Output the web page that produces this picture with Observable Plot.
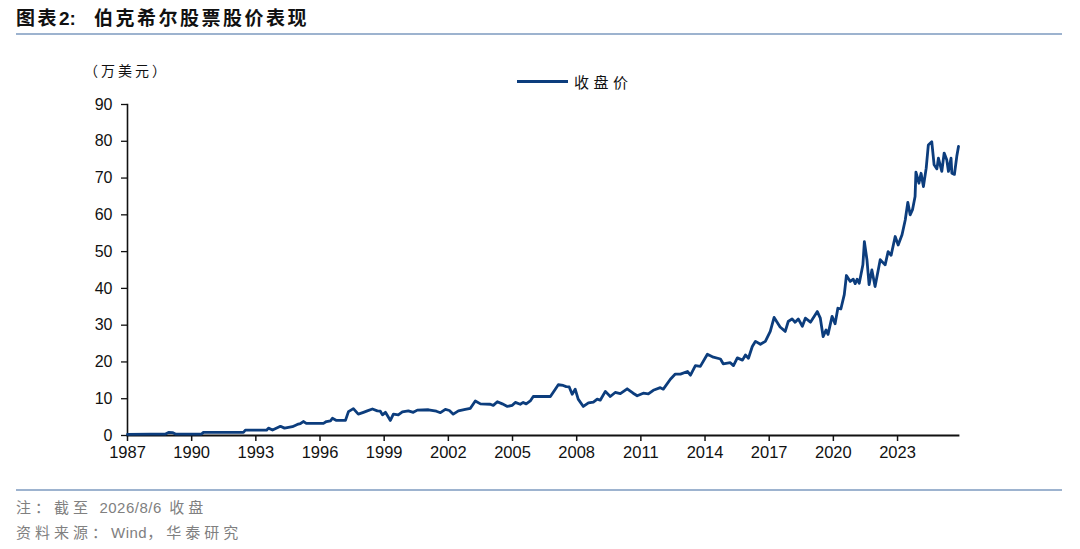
<!DOCTYPE html>
<html>
<head>
<meta charset="utf-8">
<script src="https://cdn.jsdelivr.net/npm/d3@7"></script>
<script src="https://cdn.jsdelivr.net/npm/@observablehq/plot@0.6"></script>
<style>
  html, body { margin: 0; padding: 0; background: #fff; }
  body { width: 1080px; height: 549px; overflow: hidden; font-family: "Noto Sans CJK SC", "Liberation Sans", sans-serif; }
  .title { height: 35px; margin: 0 18px 0 16px; border-bottom: 2px solid #9db3cf; box-sizing: border-box; font-weight: bold; font-size: 19px; line-height: 30px; color: #111; padding-top: 2px; letter-spacing: 2.5px; white-space: nowrap; }
  .title .num { font-family: "Liberation Sans", Arial, sans-serif; font-weight: bold; letter-spacing: 0; }
  .title .gap { display: inline-block; width: 18px; }
  .head { position: relative; height: 57px; }
  .unit { position: absolute; left: 84px; top: 25px; font-size: 14px; color: #111; letter-spacing: 3px; }
  .legend { position: absolute; left: 517px; top: 36px; display: flex; align-items: center; font-size: 15px; color: #111; letter-spacing: 4.5px; }
  .legend .sw { width: 51px; height: 3px; background: #0c3d7d; margin-right: 6px; }
  #chart { height: 395px; }
  .foot { margin: 2px 18px 0 16px; border-top: 2px solid #9db3cf; padding-top: 4px; color: #808080; font-size: 15px; line-height: 24px; letter-spacing: 4px; }
  .foot .lat { font-family: "Liberation Sans", Arial, sans-serif; letter-spacing: 0.5px; }
</style>
</head>
<body>
<div class="title">图表<span class="num">2:</span><span class="gap"></span>伯克希尔股票股价表现</div>
<div class="head">
  <div class="unit">（万美元）</div>
  <div class="legend"><div class="sw"></div><span>收盘价</span></div>
</div>
<div id="chart"></div>
<div class="foot">
  <div>注：截至 <span class="lat">2026/8/6</span> 收盘</div>
  <div>资料来源：<span class="lat">Wind</span>，华泰研究</div>
</div>
<script>
const years = [
  1987.0, 1988.07, 1988.78, 1988.92, 1989.1, 1989.24, 1990.46, 1990.55, 1992.42, 1992.51,
  1993.5, 1993.59, 1993.78, 1994.15, 1994.34, 1994.71, 1994.94, 1995.08, 1995.22, 1995.36,
  1996.16, 1996.3, 1996.49, 1996.58, 1996.77, 1997.19, 1997.33, 1997.56, 1997.79, 1998.03,
  1998.21, 1998.45, 1998.68, 1998.82, 1998.92, 1999.06, 1999.29, 1999.43, 1999.66, 1999.85,
  2000.13, 2000.36, 2000.55, 2001.07, 2001.44, 2001.63, 2001.86, 2002.05, 2002.23, 2002.47,
  2002.79, 2003.03, 2003.26, 2003.5, 2003.96, 2004.1, 2004.29, 2004.52, 2004.76, 2004.99,
  2005.13, 2005.36, 2005.5, 2005.64, 2005.83, 2005.97, 2006.77, 2007.0, 2007.14, 2007.37,
  2007.51, 2007.65, 2007.79, 2007.93, 2008.07, 2008.31, 2008.55, 2008.78, 2008.96, 2009.1,
  2009.34, 2009.57, 2009.8, 2010.04, 2010.36, 2010.64, 2010.83, 2011.11, 2011.35, 2011.58,
  2011.91, 2012.05, 2012.38, 2012.61, 2012.85, 2013.18, 2013.32, 2013.55, 2013.78, 2014.11,
  2014.39, 2014.72, 2014.85, 2015.18, 2015.33, 2015.51, 2015.75, 2015.89, 2016.03, 2016.21,
  2016.36, 2016.59, 2016.82, 2017.05, 2017.23, 2017.51, 2017.75, 2017.89, 2018.07, 2018.21,
  2018.36, 2018.55, 2018.69, 2018.93, 2019.25, 2019.39, 2019.52, 2019.66, 2019.75, 2019.94,
  2020.08, 2020.21, 2020.35, 2020.51, 2020.61, 2020.79, 2020.93, 2021.02, 2021.11, 2021.21,
  2021.38, 2021.45, 2021.57, 2021.67, 2021.8, 2021.95, 2022.19, 2022.42, 2022.56, 2022.7,
  2022.89, 2023.03, 2023.21, 2023.36, 2023.48, 2023.59, 2023.7, 2023.82, 2023.86, 2024.0,
  2024.1, 2024.21, 2024.34, 2024.44, 2024.6, 2024.71, 2024.84, 2024.91, 2025.07, 2025.18,
  2025.3, 2025.38, 2025.5, 2025.54, 2025.66, 2025.77, 2025.85
];
const prices = [
  0.3, 0.35, 0.4, 0.85, 0.8, 0.4, 0.4, 0.85, 0.85, 1.45,
  1.45, 2.0, 1.5, 2.5, 2.0, 2.4, 3.0, 3.2, 3.8, 3.3,
  3.3, 3.8, 4.0, 4.7, 4.1, 4.1, 6.5, 7.3, 5.8, 6.3,
  6.7, 7.2, 6.7, 6.6, 5.6, 6.3, 4.1, 5.8, 5.6, 6.4,
  6.7, 6.3, 6.9, 7.0, 6.6, 6.2, 7.1, 6.8, 5.8, 6.7,
  7.1, 7.4, 9.4, 8.6, 8.5, 8.2, 9.2, 8.6, 7.9, 8.2,
  9.0, 8.5, 9.0, 8.6, 9.4, 10.6, 10.6, 12.6, 13.8, 13.6,
  13.3, 13.2, 11.2, 12.6, 9.9, 7.9, 8.9, 9.1, 9.9, 9.6,
  12.0, 10.6, 11.7, 11.4, 12.7, 11.5, 10.8, 11.5, 11.3, 12.3,
  13.0, 12.6, 15.3, 16.7, 16.7, 17.4, 16.4, 19.0, 18.8, 22.1,
  21.3, 20.8, 19.5, 19.8, 19.0, 21.1, 20.5, 21.9, 21.0, 24.2,
  25.6, 24.8, 25.6, 28.3, 32.1, 29.5, 28.3, 31.0, 31.7, 30.8,
  31.7, 29.7, 31.9, 30.8, 33.7, 31.9, 26.9, 28.7, 27.5, 32.4,
  30.4, 34.6, 34.4, 38.3, 43.5, 41.9, 42.5, 41.3, 42.5, 41.4,
  46.4, 52.7, 47.8, 41.0, 45.0, 40.5, 47.8, 46.4, 50.0, 49.0,
  54.1, 51.8, 54.6, 58.6, 63.4, 60.0, 61.4, 65.0, 71.6, 68.6,
  71.3, 67.7, 72.7, 79.0, 79.9, 73.6, 72.5, 75.4, 71.8, 76.8,
  75.0, 71.8, 75.4, 71.3, 71.0, 75.9, 78.6
];
const xTicks = [1987, 1990, 1993, 1996, 1999, 2002, 2005, 2008, 2011, 2014, 2017, 2020, 2023];
const yTicks = [0, 10, 20, 30, 40, 50, 60, 70, 80, 90];

const data = years.map((y, i) => ({year: y, price: prices[i]}));

const chart = Plot.plot({
  width: 1080,
  height: 395,
  marginTop: 12,
  marginBottom: 52,
  marginLeft: 127,
  marginRight: 122,
  style: {fontFamily: "'Liberation Sans', Arial, sans-serif", fontSize: "16px", color: "#111", background: "#fff"},
  x: {domain: [1987, 2025.85]},
  y: {domain: [0, 90]},
  marks: [
    Plot.axisY({ticks: yTicks, tickSize: 6, tickPadding: 9, label: null, tickFormat: d => String(d), fontSize: 16, strokeWidth: 1.3}),
    Plot.axisX({ticks: xTicks, tickSize: 6, tickPadding: 5, label: null, tickFormat: d => String(d), fontSize: 16.5, strokeWidth: 1.5}),
    Plot.frame({anchor: "left", stroke: "#111", strokeWidth: 1.6}),
    Plot.frame({anchor: "bottom", stroke: "#111", strokeWidth: 1.8}),
    Plot.line(data, {x: "year", y: "price", stroke: "#0c3d7d", strokeWidth: 2.8, strokeLinejoin: "round"})
  ]
});
document.getElementById("chart").appendChild(chart);
</script>
</body>
</html>
